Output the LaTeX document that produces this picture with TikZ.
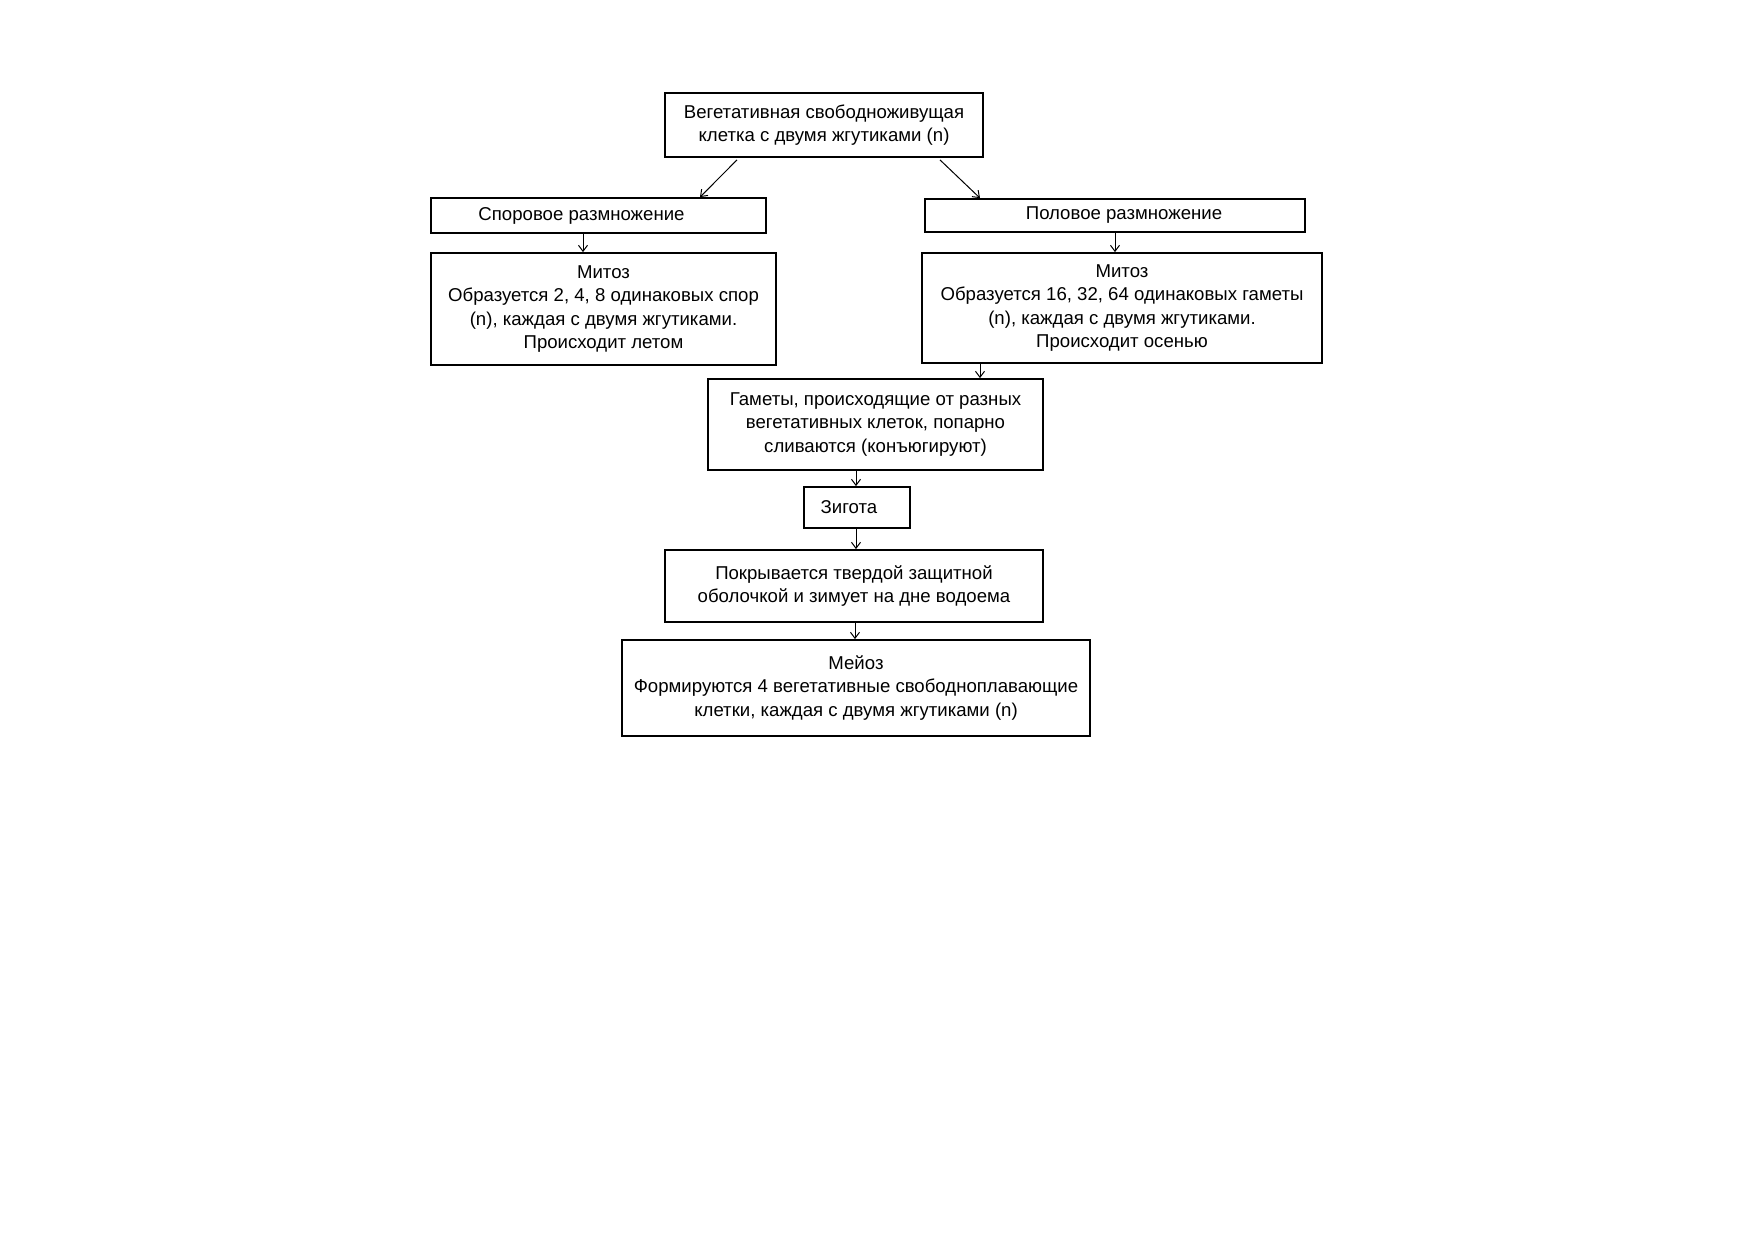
\documentclass[tikz,border=0pt]{standalone}
\usepackage{fontspec}
\setmainfont{Liberation Sans}
\usetikzlibrary{arrows.meta}
\begin{document}
\begin{tikzpicture}[x=0.5pt,y=-0.5pt,
  box/.style={draw,line width=0.9pt,inner sep=0pt,align=center,font=\fontsize{9.3}{11.75}\selectfont},
  arr/.style={line width=0.5pt,-{Straight Barb[length=3pt,width=4.5pt,line width=0.5pt]}}]
\useasboundingbox[fill=white] (0,0) rectangle (1752,1239);
\node[box,minimum width=159pt,minimum height=32pt] (top) at (824,125)
  {Вегетативная свободноживущая\\клетка с двумя жгутиками (n)};
\node[box,minimum width=167.5pt,minimum height=17.5pt] (spore) at (598.5,215.5)
  {Споровое размножение\hspace*{17pt}};
\node[box,minimum width=190pt,minimum height=16.5pt] (pol) at (1115,215.5)
  {\hspace*{9pt}Половое размножение};
\node[box,minimum width=172.5pt,minimum height=56pt] (mitL) at (603.5,309)
  {Митоз\\Образуется 2, 4, 8 одинаковых спор\\(n), каждая с двумя жгутиками.\\Происходит летом};
\node[box,minimum width=200pt,minimum height=55pt] (mitR) at (1122,308)
  {Митоз\\Образуется 16, 32, 64 одинаковых гаметы\\(n), каждая с двумя жгутиками.\\Происходит осенью};
\node[box,minimum width=167.5pt,minimum height=45.5pt] (gam) at (875.5,424.5)
  {Гаметы, происходящие от разных\\вегетативных клеток, попарно\\сливаются (конъюгируют)};
\node[box,minimum width=53pt,minimum height=20.5pt] (zyg) at (857,507.5)
  {Зигота\hspace*{8pt}};
\node[box,minimum width=189pt,minimum height=36pt] (pok) at (854,586)
  {Покрывается твердой защитной\\оболочкой и зимует на дне водоема};
\node[box,minimum width=234pt,minimum height=48pt] (mei) at (856,688)
  {Мейоз\\Формируются 4 вегетативные свободноплавающие\\клетки, каждая с двумя жгутиками (n)};
\draw[arr] ([yshift=-1pt]top.south -| 737,0) -- (spore.north -| 700,0);
\draw[arr] ([yshift=-1pt]top.south -| 940,0) -- (pol.north -| 980,0);
\draw[arr] (spore.south -| 583,0) -- (mitL.north -| 583,0);
\draw[arr] (pol.south -| 1115,0) -- (mitR.north -| 1115,0);
\draw[arr] (mitR.south -| 980,0) -- (gam.north -| 980,0);
\draw[arr] (gam.south -| 856,0) -- (zyg.north -| 856,0);
\draw[arr] (zyg.south -| 856,0) -- (pok.north -| 856,0);
\draw[arr] (pok.south -| 855,0) -- (mei.north -| 855,0);
\end{tikzpicture}
\end{document}
